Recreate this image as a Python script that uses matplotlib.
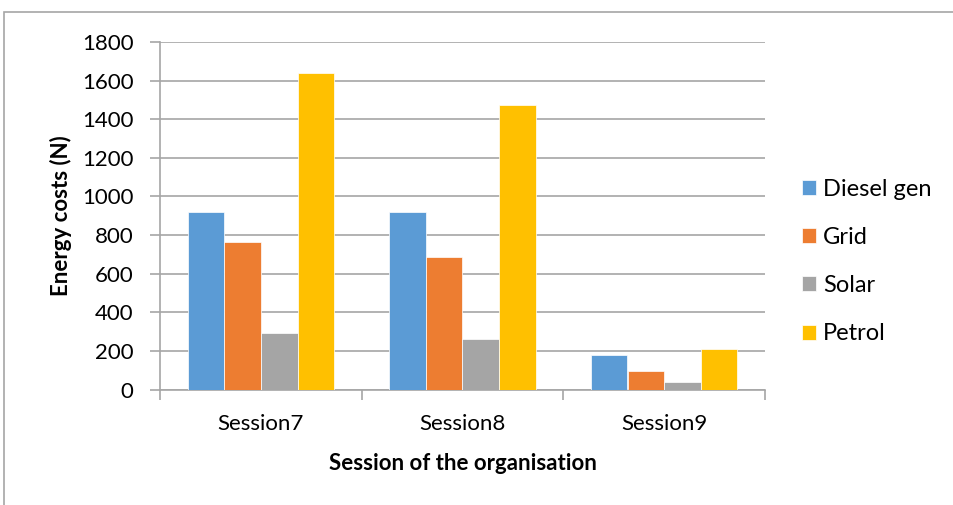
import numpy as np
import matplotlib.pyplot as plt
from matplotlib.patches import Rectangle

plt.rcParams['font.family'] = ['Lato', 'DejaVu Sans']

sessions = ['Session7', 'Session8', 'Session9']
sources = ['Diesel gen', 'Grid', 'Solar', 'Petrol']
diesel = [918, 918, 181]
grid = [763, 685, 98]
solar = [293, 264, 38]
petrol = [1638, 1472, 212]
colors = ['#5b9bd5', '#ed7d31', '#a5a5a5', '#ffc000']

fig = plt.figure(figsize=(9.54, 5.05), dpi=100)
ax = fig.add_axes([160 / 954, 1 - 389.5 / 505, 605 / 954, 347.5 / 505])

# chart frame
fig.patches.append(Rectangle((4 / 954, -0.01), 1.0, 1 - 12 / 505 + 0.01,
                             transform=fig.transFigure, fill=False,
                             edgecolor='#a6a6a6', lw=1.2))

x = np.arange(len(sessions))
w = 1 / 5.5
for i, (vals, name) in enumerate(zip([diesel, grid, solar, petrol], sources)):
    ax.bar(x + (i - 1.5) * w, vals, w, color=colors[i], label=name,
           edgecolor='white', linewidth=0.5, zorder=3)

ax.set_xlim(-0.5, 2.5)
ax.set_ylim(0, 1800)
ax.set_yticks(range(0, 1801, 200))
ax.yaxis.grid(True, color='#a6a6a6', lw=1.2, zorder=0)
for s in ['top', 'right']:
    ax.spines[s].set_visible(False)
for s in ['left', 'bottom']:
    ax.spines[s].set_color('#a6a6a6')
    ax.spines[s].set_linewidth(1.2)

ax.set_xticks(x)
ax.set_xticklabels(sessions)
ax.set_xticks([-0.5, 0.5, 1.5, 2.5], minor=True)
ax.tick_params(axis='x', which='major', length=0, pad=18, labelsize=16)
ax.tick_params(axis='x', which='minor', length=7, color='#a6a6a6', width=1.2)
ax.tick_params(axis='y', length=7, color='#a6a6a6', width=1.2, labelsize=16, pad=12)

ax.set_ylabel('Energy costs (N)', fontsize=16, fontweight='bold', labelpad=7)
ax.set_xlabel('Session of the organisation', fontsize=16, fontweight='bold', labelpad=13)

ax.legend(loc='center left', bbox_to_anchor=(1.045, 0.368), frameon=False,
          fontsize=17, handlelength=0.6, handleheight=0.6,
          handletextpad=0.3, labelspacing=1.15, borderaxespad=0)

fig.savefig('out.png', dpi=100)
